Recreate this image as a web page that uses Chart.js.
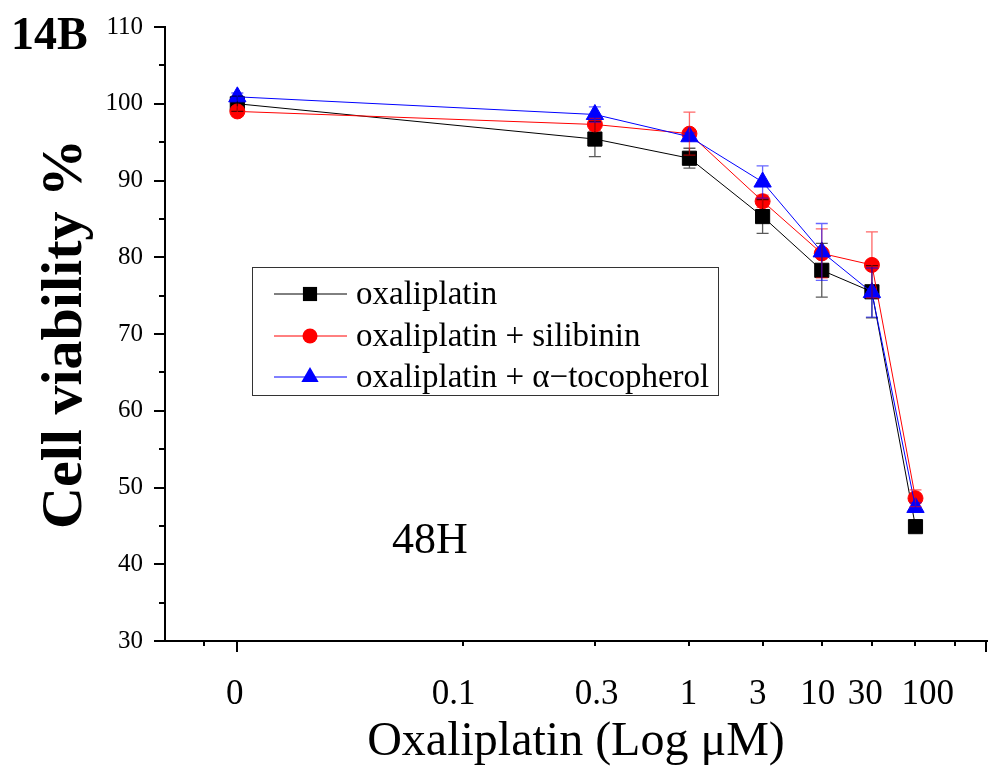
<!DOCTYPE html>
<html>
<head>
<meta charset="utf-8">
<script src="https://cdn.jsdelivr.net/npm/chart.js@4.4.0/dist/chart.umd.min.js"></script>
<style>
  html, body { margin: 0; padding: 0; background: #fff; }
</style>
</head>
<body>
<canvas id="viability" width="998" height="775"></canvas>
<script>
// x axis: tick labels, where each tick mark sits along the axis (0..100)
// and where its label text sits (the figure's labels are a little off their ticks)
var tickLabels = ['0', '0.1', '0.3', '1', '3', '10', '30', '100'];
var tickPos = [8.8, 36.3, 52.3, 63.8, 72.7, 79.9, 86.0, 91.3];
var labelPos = [8.5, 35.1, 52.5, 63.7, 72.1, 79.4, 85.2, 92.8];
var minorTickPos = [4.7, 96.1];

// measured doses (uM)
var doses = ['0', '0.3', '1', '3', '10', '30', '100'];

// cell viability % and error
var oxali = [100.0, 95.4, 92.9, 85.3, 78.3, 75.5, 44.9];
var oxaliErr = [1.0, 2.3, 1.3, 2.2, 3.5, 3.4, 0.5];
var silib = [99.0, 97.3, 96.1, 87.3, 80.5, 79.0, 48.6];
var silibErr = [0.6, 0.8, 2.8, 0.8, 3.2, 4.3, 1.1];
var toco = [100.9, 98.6, 95.7, 89.8, 80.7, 75.4, 47.4];
var tocoErr = [0.5, 1.0, 0.5, 2.1, 3.7, 3.2, 0.6];

var yMin = 30, yMax = 110, yStep = 10;

var serif = 'Liberation Serif';

function points(vals, errs) {
  return doses.map(function (d, i) {
    return { x: tickPos[tickLabels.indexOf(d)], y: vals[i], err: errs[i] };
  });
}

// error bars, drawn over the markers like in the original
var errorBars = {
  id: 'errorBars',
  afterDatasetsDraw: function (chart) {
    var ctx = chart.ctx;
    var xs = chart.scales.x, ys = chart.scales.y;
    chart.data.datasets.forEach(function (ds) {
      ctx.save();
      ctx.strokeStyle = ds.errColor;
      ctx.lineWidth = 1.3;
      ds.data.forEach(function (p) {
        var x = xs.getPixelForValue(p.x);
        var y1 = ys.getPixelForValue(p.y + p.err);
        var y2 = ys.getPixelForValue(p.y - p.err);
        ctx.beginPath();
        ctx.moveTo(x, y1); ctx.lineTo(x, y2);
        ctx.moveTo(x - 6, y1); ctx.lineTo(x + 6, y1);
        ctx.moveTo(x - 6, y2); ctx.lineTo(x + 6, y2);
        ctx.stroke();
      });
      ctx.restore();
    });
  }
};

function marker(ctx, style, r, x, y, color) {
  ctx.fillStyle = color;
  ctx.beginPath();
  if (style === 'rect') {
    var s = r * Math.SQRT1_2;
    ctx.rect(x - s, y - s, 2 * s, 2 * s);
  } else if (style === 'triangle') {
    ctx.moveTo(x, y - r);
    ctx.lineTo(x + r * 0.866, y + r / 2);
    ctx.lineTo(x - r * 0.866, y + r / 2);
    ctx.closePath();
  } else {
    ctx.arc(x, y, r, 0, Math.PI * 2);
  }
  ctx.fill();
}

// minor y ticks, long x ticks, legend box and free text
var extras = {
  id: 'extras',
  afterDraw: function (chart) {
    var ctx = chart.ctx;
    var xs = chart.scales.x, ys = chart.scales.y;
    var a = chart.chartArea;
    ctx.save();
    ctx.strokeStyle = '#000';
    ctx.lineWidth = 2;
    ctx.beginPath();
    for (var v = yMin + yStep / 2; v < yMax; v += yStep) {
      var py = Math.round(ys.getPixelForValue(v));
      ctx.moveTo(a.left - 6, py); ctx.lineTo(a.left, py);
    }
    [tickPos[0], xs.max].forEach(function (m) {
      var px = Math.round(xs.getPixelForValue(m)) - (m === xs.max ? 1 : 0);
      ctx.moveTo(px, a.bottom); ctx.lineTo(px, a.bottom + 11);
    });
    ctx.stroke();

    // legend
    ctx.lineWidth = 1;
    ctx.strokeStyle = '#333';
    ctx.strokeRect(252.5, 267.5, 466, 128);
    var rows = [294, 336, 377];
    ctx.font = '33px "' + serif + '"';
    ctx.textBaseline = 'middle';
    chart.data.datasets.forEach(function (ds, i) {
      var y = rows[i];
      ctx.strokeStyle = ds.borderColor;
      ctx.beginPath();
      ctx.moveTo(274, y); ctx.lineTo(347, y);
      ctx.stroke();
      marker(ctx, ds.pointStyle, ds.pointRadius, 310, y, ds.borderColor);
      ctx.fillStyle = '#000';
      ctx.textAlign = 'left';
      ctx.fillText(ds.label, 356, y + 1);
    });

    ctx.fillStyle = '#000';
    ctx.textAlign = 'center';
    ctx.font = '44px "' + serif + '"';
    ctx.fillText('48H', 430, 541);
    ctx.textAlign = 'left';
    ctx.font = 'bold 46px "' + serif + '"';
    ctx.fillText('14B', 11, 37);
    ctx.restore();
  }
};

new Chart(document.getElementById('viability'), {
  type: 'line',
  data: {
    datasets: [{
      label: 'oxaliplatin',
      data: points(oxali, oxaliErr),
      borderColor: '#000000',
      backgroundColor: '#000000',
      errColor: 'rgba(0,0,0,0.65)',
      pointStyle: 'rect',
      pointRadius: 10,
      order: 3
    }, {
      label: 'oxaliplatin + silibinin',
      data: points(silib, silibErr),
      borderColor: '#ff0000',
      backgroundColor: '#ff0000',
      errColor: 'rgba(255,0,0,0.6)',
      pointStyle: 'circle',
      pointRadius: 7.5,
      order: 2
    }, {
      label: 'oxaliplatin + \u03b1\u2212tocopherol',
      data: points(toco, tocoErr),
      borderColor: '#0000ff',
      backgroundColor: '#0000ff',
      errColor: 'rgba(0,0,255,0.6)',
      pointStyle: 'triangle',
      pointRadius: 10,
      order: 1
    }]
  },
  options: {
    responsive: false,
    animation: false,
    devicePixelRatio: 1,
    layout: { padding: { top: 27, right: 2, left: 0, bottom: 0 } },
    elements: {
      line: { borderWidth: 1, tension: 0 },
      point: { borderWidth: 1, hoverRadius: 10 }
    },
    plugins: { legend: { display: false }, tooltip: { enabled: false } },
    scales: {
      // tick marks only
      x: {
        type: 'linear',
        position: 'bottom',
        weight: 0,
        min: 0,
        max: 100,
        afterFit: function (s) { s.height = 5; },
        afterBuildTicks: function (s) {
          s.ticks = tickPos.concat(minorTickPos).map(function (p) { return { value: p }; });
        },
        ticks: { display: false },
        grid: { drawOnChartArea: false, color: '#000', tickLength: 5, lineWidth: 2 },
        border: { color: '#000', width: 2 }
      },
      // tick labels and title
      xLabel: {
        type: 'linear',
        position: 'bottom',
        weight: 1,
        min: 0,
        max: 100,
        afterFit: function (s) { s.height = 129; },
        afterBuildTicks: function (s) {
          s.ticks = labelPos.map(function (p) { return { value: p }; });
        },
        ticks: {
          autoSkip: false,
          maxRotation: 0,
          padding: 20,
          color: '#000',
          font: { family: serif, size: 35 },
          callback: function (v) { return tickLabels[labelPos.indexOf(v)]; }
        },
        grid: { display: false },
        border: { display: false },
        title: {
          display: true,
          text: 'Oxaliplatin (Log \u03bcM)',
          color: '#000',
          font: { family: serif, size: 48 },
          padding: { top: 0, bottom: 4 }
        }
      },
      y: {
        min: yMin,
        max: yMax,
        afterFit: function (s) { s.width = 165; },
        ticks: {
          stepSize: yStep,
          padding: 11,
          color: '#000',
          font: { family: serif, size: 25 }
        },
        grid: { drawOnChartArea: false, color: '#000', tickLength: 11, lineWidth: 2 },
        border: { color: '#000', width: 2 },
        title: {
          display: true,
          text: 'Cell viability %',
          color: '#000',
          font: { family: serif, size: 58, weight: 'bold' },
          padding: { top: 31, bottom: 0 }
        }
      }
    }
  },
  plugins: [errorBars, extras]
});
</script>
</body>
</html>
